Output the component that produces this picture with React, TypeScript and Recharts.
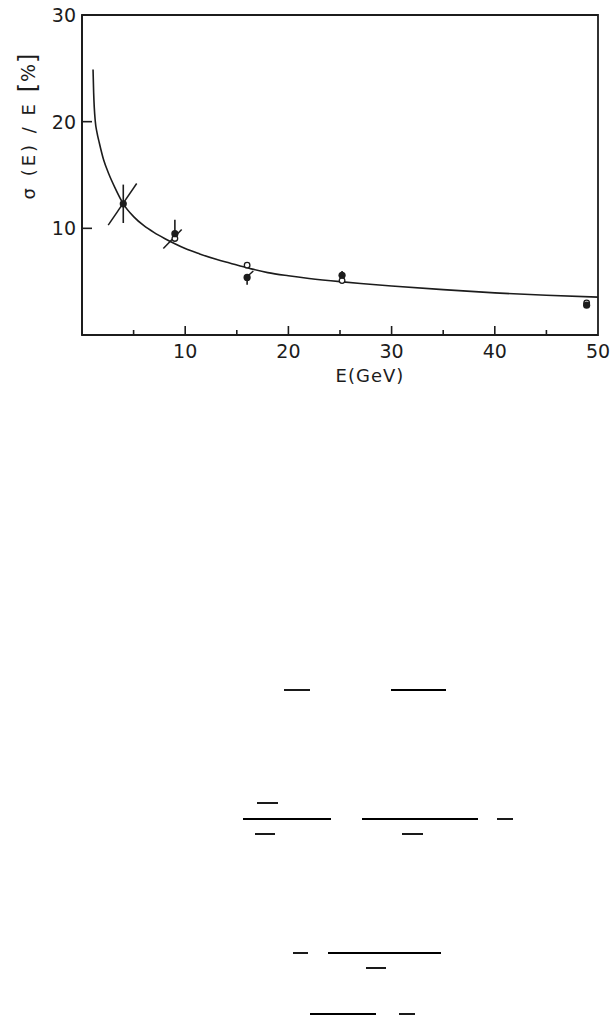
import React from "react";
import {
  ComposedChart,
  Line,
  Scatter,
  XAxis,
  YAxis,
  ReferenceLine,
  ReferenceArea,
} from "recharts";

// fitted resolution curve
const curveE = [1.07, 1.13, 1.29, 1.45, 1.68, 2.1, 2.6, 3.2, 4.0, 5, 6, 7, 8, 9, 10, 11.4, 13, 14.3, 16.4, 18, 20, 22, 25, 27, 30, 35, 40, 45, 50];
const curveSigma = [24.9, 22.7, 20.0, 19.0, 18.0, 16.4, 15.1, 13.8, 12.3, 11.1, 10.25, 9.6, 9.05, 8.55, 8.1, 7.6, 7.1, 6.75, 6.2, 5.85, 5.55, 5.3, 5.0, 4.83, 4.6, 4.25, 3.95, 3.72, 3.55];

// measured points
const filledE = [4.0, 9.0, 16.0, 25.2, 48.9];
const filledSigma = [12.3, 9.5, 5.4, 5.6, 2.8];
const openE = [9.0, 16.0, 25.2, 48.9];
const openSigma = [9.05, 6.55, 5.1, 3.0];

// vertical error bars: E, low, high
const barE = [4.0, 9.0, 16.0, 25.2];
const barLow = [10.5, 9.4, 4.7, 5.6];
const barHigh = [14.1, 10.8, 5.4, 6.0];

// slanted error bars: start (E, sigma) -> end (E, sigma)
const slantE1 = [2.54, 7.88, 15.8];
const slantS1 = [10.3, 8.1, 5.3];
const slantE2 = [5.3, 9.66, 16.6];
const slantS2 = [14.2, 9.9, 6.0];

const xTicks = [5, 10, 15, 20, 25, 30, 35, 40, 45, 50];
const yTicks = [10, 20, 30];

const INK = "#1c1c1c";
const FONT = "'DejaVu Sans', sans-serif";

const curveData = curveE.map((e, i) => ({ E: e, s: curveSigma[i] }));
const filledData = filledE.map((e, i) => ({ E: e, s: filledSigma[i] }));
const openData = openE.map((e, i) => ({ E: e, s: openSigma[i] }));

const XTick = (props: any) => {
  const { x, y, payload } = props;
  const v = payload.value;
  const major = v % 10 === 0;
  return (
    <g>
      {v < 50 && (
        <line x1={x} y1={y} x2={x} y2={y - (major ? 9 : 5)} stroke={INK} strokeWidth={1.6} />
      )}
      {major && (
        <text x={x} y={y + 23} textAnchor="middle" fontSize={19} fontFamily={FONT} fill={INK}>
          {v}
        </text>
      )}
    </g>
  );
};

const YTick = (props: any) => {
  const { x, y, payload } = props;
  const v = payload.value;
  return (
    <g>
      {v < 30 && <line x1={x} y1={y} x2={x + 10} y2={y} stroke={INK} strokeWidth={1.6} />}
      <text x={x - 6} y={y} dy="0.36em" textAnchor="end" fontSize={19} fontFamily={FONT} fill={INK}>
        {v}
      </text>
    </g>
  );
};

const YLabel = (props: any) => {
  const vb = props.viewBox || { x: 0, y: 15, width: 82, height: 320 };
  const cx = vb.x + 28;
  const cy = vb.y + 110;
  return (
    <text
      x={cx}
      y={cy}
      transform={`rotate(-90, ${cx}, ${cy})`}
      textAnchor="middle"
      dominantBaseline="central"
      fontSize={18}
      letterSpacing={3}
      fontFamily={FONT}
      fill={INK}
    >
      σ (E) / E <tspan fontSize={24} letterSpacing={1}>[</tspan>
      <tspan fontSize={19} letterSpacing={1}>%</tspan>
      <tspan fontSize={24}>]</tspan>
    </text>
  );
};

const XLabel = (props: any) => {
  const vb = props.viewBox || { x: 82, y: 335, width: 516, height: 65 };
  return (
    <text
      x={vb.x + 288}
      y={vb.y + 40}
      textAnchor="middle"
      dominantBaseline="central"
      fontSize={18}
      letterSpacing={1}
      fontFamily={FONT}
      fill={INK}
    >
      E(GeV)
    </text>
  );
};

const FilledDot = (p: any) => <circle cx={p.cx} cy={p.cy} r={3.6} fill={INK} />;
const OpenDot = (p: any) => (
  <circle cx={p.cx} cy={p.cy} r={2.8} fill="#fff" stroke={INK} strokeWidth={1.3} />
);

// leftover fraction bars from the page text below the figure
const fractionBars = [
  [284, 310, 690], [391, 446, 690],
  [257, 278, 803], [243, 331, 819], [362, 478, 819], [497, 513, 819],
  [255, 275, 834], [402, 423, 834],
  [293, 308, 953], [328, 441, 953], [366, 386, 968],
  [310, 376, 1014], [399, 415, 1014],
];

export default function App() {
  return (
    <div style={{ position: "absolute", left: 0, top: 0, width: 613, height: 1015, background: "#fff" }}>
      <ComposedChart
        width={613}
        height={400}
        margin={{ top: 15, right: 15, bottom: 0, left: 0 }}
      >
        <XAxis
          type="number"
          dataKey="E"
          domain={[0, 50]}
          ticks={xTicks}
          allowDataOverflow
          height={65}
          tickSize={0}
          tickMargin={0}
          tickLine={false}
          tick={<XTick />}
          axisLine={{ stroke: INK, strokeWidth: 1.8 }}
          label={<XLabel />}
        />
        <YAxis
          type="number"
          dataKey="s"
          domain={[0, 30]}
          ticks={yTicks}
          allowDataOverflow
          width={82}
          tickSize={0}
          tickMargin={0}
          tickLine={false}
          tick={<YTick />}
          axisLine={{ stroke: INK, strokeWidth: 1.8 }}
          label={<YLabel />}
        />
        <ReferenceArea x1={0} x2={50} y1={0} y2={30} fill="none" stroke={INK} strokeWidth={1.8} />
        <Line
          data={curveData}
          dataKey="s"
          type="monotone"
          stroke={INK}
          strokeWidth={1.6}
          dot={false}
          isAnimationActive={false}
        />
        {barE.map((e, i) => (
          <ReferenceLine
            key={`v${i}`}
            segment={[{ x: e, y: barLow[i] }, { x: e, y: barHigh[i] }]}
            stroke={INK}
            strokeWidth={1.6}
          />
        ))}
        {slantE1.map((e, i) => (
          <ReferenceLine
            key={`d${i}`}
            segment={[{ x: e, y: slantS1[i] }, { x: slantE2[i], y: slantS2[i] }]}
            stroke={INK}
            strokeWidth={1.5}
          />
        ))}
        <Scatter data={openData} dataKey="s" shape={<OpenDot />} isAnimationActive={false} />
        <Scatter data={filledData} dataKey="s" shape={<FilledDot />} isAnimationActive={false} />
      </ComposedChart>
      <svg width={613} height={1015} style={{ position: "absolute", left: 0, top: 0, pointerEvents: "none" }}>
        {fractionBars.map(([x1, x2, y], i) => (
          <line key={i} x1={x1} x2={x2} y1={y} y2={y} stroke="#000" strokeWidth={1.8} />
        ))}
      </svg>
    </div>
  );
}
